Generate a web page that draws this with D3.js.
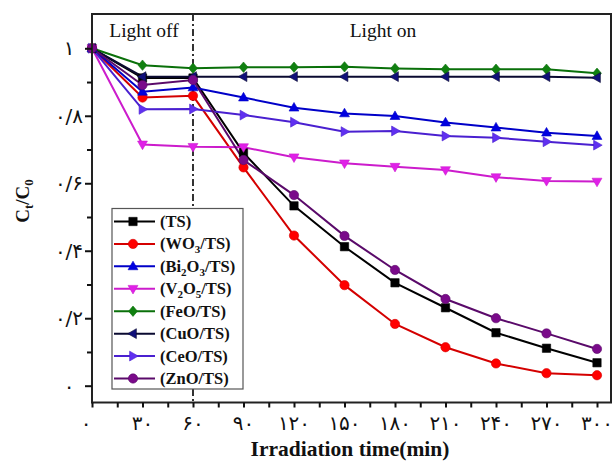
<!DOCTYPE html>
<html><head><meta charset="utf-8">
<script src="https://cdn.jsdelivr.net/npm/d3@7"></script>
<style>html,body{margin:0;padding:0;background:#fff;}svg{display:block;}</style>
</head><body>
<script>
const times = [0,30,60,90,120,150,180,210,240,270,300];
const xTickLabels = ["۰","۳۰","۶۰","۹۰","۱۲۰","۱۵۰","۱۸۰","۲۱۰","۲۴۰","۲۷۰","۳۰۰"];
const yTicks = [0,0.2,0.4,0.6,0.8,1];
const yTickLabels = ["۰","۰/۲","۰/۴","۰/۶","۰/۸","۱"];
const seriesNames = ["(TS)","(WO3/TS)","(Bi2O3/TS)","(V2O5/TS)","(FeO/TS)","(CuO/TS)","(CeO/TS)","(ZnO/TS)"];
const TS    = [1,0.912,0.912,0.690,0.533,0.412,0.305,0.231,0.157,0.111,0.068];
const WO3   = [1,0.854,0.859,0.647,0.445,0.298,0.183,0.114,0.066,0.037,0.031];
const Bi2O3 = [1,0.871,0.884,0.854,0.824,0.807,0.799,0.780,0.765,0.750,0.740];
const V2O5  = [1,0.715,0.708,0.707,0.677,0.659,0.649,0.639,0.618,0.607,0.605];
const FeO   = [1,0.950,0.941,0.944,0.944,0.945,0.940,0.938,0.938,0.938,0.926];
const CuO   = [1,0.916,0.916,0.916,0.916,0.916,0.916,0.916,0.916,0.916,0.913];
const CeO   = [1,0.819,0.820,0.802,0.781,0.753,0.755,0.740,0.735,0.723,0.713];
const ZnO   = [1,0.891,0.906,0.669,0.565,0.444,0.343,0.257,0.200,0.155,0.109];
const values = [TS,WO3,Bi2O3,V2O5,FeO,CuO,CeO,ZnO];
const lineColors   = ["#000000","#d40000","#0000c8","#cc1ccc","#0a700a","#0a0a30","#4a20d0","#5a0a6a"];
const markerColors = ["#000000","#ff0000","#0000e0","#e020e8","#108010","#10107a","#6030f0","#7a0a8a"];
const markerTypes = ["square","circle","triUp","triDown","diamond","triLeft","triRight","circle"];

const W=613,H=461;
const svg=d3.select("body").append("svg").attr("width",W).attr("height",H);
const x=d3.scaleLinear().domain([0,300]).range([92,597]);
const y=d3.scaleLinear().domain([0,1]).range([385.7,48.3]);
const pLeft=92,pRight=611,pTop=14,pBottom=402.5;

function markerPath(type,s){
  const r=s;
  switch(type){
    case "square": return `M${-r*0.8},${-r*0.8}h${r*1.6}v${r*1.6}h${-r*1.6}Z`;
    case "circle": return d3.symbol().type(d3.symbolCircle).size(Math.PI*r*r*0.8)();
    case "triUp": return `M0,${-r}L${r*0.95},${r*0.65}L${-r*0.95},${r*0.65}Z`;
    case "triDown": return `M0,${r}L${r*0.95},${-r*0.65}L${-r*0.95},${-r*0.65}Z`;
    case "triLeft": return `M${-r},0L${r*0.65},${-r*0.95}L${r*0.65},${r*0.95}Z`;
    case "triRight": return `M${r},0L${-r*0.65},${-r*0.95}L${-r*0.65},${r*0.95}Z`;
    case "diamond": return `M0,${-r}L${r*0.85},0L0,${r}L${-r*0.85},0Z`;
  }
}

// dash-dot line at 60
svg.append("line").attr("x1",x(60)).attr("x2",x(60)).attr("y1",pTop).attr("y2",pBottom)
  .attr("stroke","#000").attr("stroke-width",1.6).attr("stroke-dasharray","7,3,2,3");

// series
const line=d3.line().x((d,i)=>x(times[i])).y(d=>y(d));
values.forEach((vals,k)=>{
  svg.append("path").attr("d",line(vals)).attr("fill","none")
    .attr("stroke",lineColors[k]).attr("stroke-width",2);
});
values.forEach((vals,k)=>{
  svg.append("g").selectAll("path").data(vals).join("path")
    .attr("transform",(d,i)=>`translate(${x(times[i])},${y(d)})`)
    .attr("d",markerPath(markerTypes[k],5.2))
    .attr("fill",markerColors[k]).attr("stroke",lineColors[k]).attr("stroke-width",0.6);
});

// frame
svg.append("rect").attr("x",pLeft).attr("y",pTop).attr("width",pRight-pLeft).attr("height",pBottom-pTop)
  .attr("fill","none").attr("stroke","#222").attr("stroke-width",2);

// y axis
const yAxis=d3.axisLeft(y).tickValues(yTicks).tickSize(7).tickFormat("");
const yg=svg.append("g").attr("transform",`translate(${pLeft},0)`).call(yAxis);
yg.select(".domain").remove();
yg.selectAll("line").attr("stroke","#111").attr("stroke-width",2);
const yMinor=d3.axisLeft(y).tickValues([0.1,0.3,0.5,0.7,0.9]).tickSize(5).tickFormat("");
const ymg=svg.append("g").attr("transform",`translate(${pLeft},0)`).call(yMinor);
ymg.select(".domain").remove();
ymg.selectAll("line").attr("stroke","#111").attr("stroke-width",2);
svg.append("g").selectAll("text").data(yTicks).join("text")
  .attr("x",69).attr("y",d=>y(d)+7).attr("text-anchor","middle")
  .attr("font-family","DejaVu Sans").attr("font-size",20).attr("fill","#111")
  .text((d,i)=>yTickLabels[i]);

// x axis
const xAxis=d3.axisBottom(x).tickValues(times).tickSize(5).tickFormat("");
const xg=svg.append("g").attr("transform",`translate(0,${pBottom})`).call(xAxis);
xg.select(".domain").remove();
xg.selectAll("line").attr("stroke","#111").attr("stroke-width",2);
const xMinor=d3.axisBottom(x).tickValues(d3.range(15,300,30)).tickSize(5).tickFormat("");
const xmg=svg.append("g").attr("transform",`translate(0,${pBottom})`).call(xMinor);
xmg.select(".domain").remove();
xmg.selectAll("line").attr("stroke","#111").attr("stroke-width",2);
svg.append("g").selectAll("text").data(times).join("text")
  .attr("x",(d,i)=>x(d)-(i===0?6:0)).attr("y",430).attr("text-anchor","middle")
  .attr("font-family","DejaVu Sans").attr("font-size",20).attr("fill","#111")
  .text((d,i)=>xTickLabels[i]);

// axis titles
svg.append("text").attr("x",350).attr("y",456).attr("text-anchor","middle")
  .attr("font-family","Liberation Serif").attr("font-weight","bold").attr("font-size",21.5).attr("fill","#111")
  .text("Irradiation time(min)");
const yt=svg.append("text").attr("transform","translate(29,201) rotate(-90)").attr("text-anchor","middle")
  .attr("font-family","Liberation Serif").attr("font-weight","bold").attr("font-size",19).attr("fill","#111");
yt.append("tspan").text("C");
yt.append("tspan").attr("font-size",13).attr("dy",4).text("t");
yt.append("tspan").attr("dy",-4).text("/C");
yt.append("tspan").attr("font-size",13).attr("dy",4).text("0");

// light labels
svg.append("text").attr("x",144).attr("y",37).attr("text-anchor","middle")
  .attr("font-family","Liberation Serif").attr("font-size",19.5).attr("fill","#111").text("Light off");
svg.append("text").attr("x",383).attr("y",37).attr("text-anchor","middle")
  .attr("font-family","Liberation Serif").attr("font-size",19.5).attr("fill","#111").text("Light on");

// legend
const lg=svg.append("g");
lg.append("rect").attr("x",112).attr("y",208.5).attr("width",131).attr("height",180.5)
  .attr("fill","#fff").attr("stroke","#555").attr("stroke-width",1.2);
const rowY=d3.scaleLinear().domain([0,7]).range([221.5,378.5]);
seriesNames.forEach((name,k)=>{
  const yy=rowY(k);
  lg.append("line").attr("x1",114).attr("x2",155).attr("y1",yy).attr("y2",yy)
    .attr("stroke",lineColors[k]).attr("stroke-width",2);
  lg.append("path").attr("transform",`translate(133,${yy})`).attr("d",markerPath(markerTypes[k],5.2))
    .attr("fill",markerColors[k]).attr("stroke",lineColors[k]).attr("stroke-width",0.6);
  const t=lg.append("text").attr("x",160).attr("y",yy+5.5)
    .attr("font-family","Liberation Serif").attr("font-weight","bold").attr("font-size",16.5).attr("fill","#111");
  const parts=name.split(/(\d)/);
  let prevSub=false;
  parts.forEach(p=>{
    if(!p.length) return;
    if(/^\d$/.test(p)){ t.append("tspan").attr("font-size",11).attr("dy",4).text(p); prevSub=true; }
    else { const ts=t.append("tspan").text(p); if(prevSub) ts.attr("dy",-4); prevSub=false; }
  });
});
</script>
</body></html>
